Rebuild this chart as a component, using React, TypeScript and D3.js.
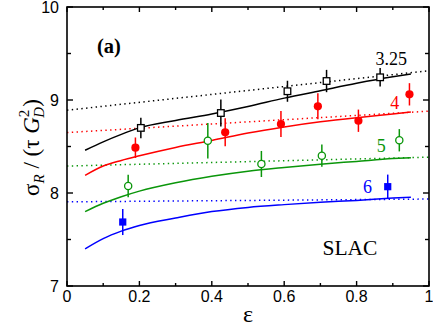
import * as d3 from "d3";
import React from "react";

const width = 433;
const height = 327;
const margin = { top: 7, right: 4, bottom: 41, left: 67 };

// model curves (solid) at these epsilon values
const curveEps = [0.05, 0.1, 0.15, 0.2, 0.3, 0.4, 0.5, 0.6, 0.7, 0.8, 0.9, 0.95];
const curve325 = [8.46, 8.55, 8.63, 8.7, 8.78, 8.85, 8.93, 9.02, 9.1, 9.18, 9.25, 9.28];
const curve4 = [8.19, 8.29, 8.35, 8.4, 8.49, 8.565, 8.645, 8.71, 8.765, 8.81, 8.85, 8.87];
const curve5 = [7.8, 7.89, 7.96, 8.02, 8.11, 8.18, 8.235, 8.275, 8.31, 8.34, 8.37, 8.38];
const curve6 = [7.4, 7.51, 7.59, 7.65, 7.73, 7.8, 7.845, 7.875, 7.9, 7.92, 7.945, 7.955];

// dotted lines, values at eps = 0 and eps = 1
const dotEps = [0, 1];
const dot325 = [8.89, 9.315];
const dot4 = [8.65, 8.88];
const dot5 = [8.29, 8.385];
const dot6 = [7.905, 7.935];

// SLAC points
const eps325 = [0.204, 0.425, 0.609, 0.717, 0.865];
const val325 = [8.7, 8.86, 9.094, 9.204, 9.244];
const err325 = [0.11, 0.145, 0.113, 0.12, 0.1];

const eps4 = [0.189, 0.437, 0.591, 0.693, 0.805, 0.946];
const val4 = [8.487, 8.653, 8.742, 8.932, 8.777, 9.061];
const err4 = [0.11, 0.15, 0.14, 0.14, 0.12, 0.12];

const eps5 = [0.169, 0.389, 0.537, 0.704, 0.918];
const val5 = [8.075, 8.562, 8.312, 8.401, 8.567];
const err5 = [0.12, 0.19, 0.14, 0.12, 0.12];

const eps6 = [0.154, 0.886];
const val6 = [7.688, 8.068];
const err6 = [0.14, 0.13];

const xTicks = [0, 0.2, 0.4, 0.6, 0.8, 1];
const xMinor = [0.1, 0.3, 0.5, 0.7, 0.9];
const yTicks = [7, 8, 9, 10];
const yMinor = [7.5, 8.5, 9.5];

const series = [
  { label: "3.25", color: "#000", marker: "openSquare", eps: eps325, val: val325, err: err325, curve: curve325, dot: dot325, lx: 0.852, ly: 9.375 },
  { label: "4", color: "#ff0000", marker: "dot", eps: eps4, val: val4, err: err4, curve: curve4, dot: dot4, ly: 8.9, lx: 0.893 },
  { label: "5", color: "#0a960a", marker: "openCircle", eps: eps5, val: val5, err: err5, curve: curve5, dot: dot5, lx: 0.856, ly: 8.44 },
  { label: "6", color: "#0000ff", marker: "square", eps: eps6, val: val6, err: err6, curve: curve6, dot: dot6, lx: 0.818, ly: 8.0 },
];

const serif = "'Liberation Serif', 'Times New Roman', serif";
const sans = "'Liberation Sans', Arial, Helvetica, sans-serif";

export default function App() {
  const x = d3.scaleLinear().domain([0, 1]).range([margin.left, width - margin.right]);
  const y = d3.scaleLinear().domain([7, 10]).range([height - margin.bottom, margin.top]);
  const line = d3
    .line<[number, number]>()
    .x((d) => x(d[0]))
    .y((d) => y(d[1]))
    .curve(d3.curveMonotoneX);
  const straight = d3
    .line<[number, number]>()
    .x((d) => x(d[0]))
    .y((d) => y(d[1]));

  const x0 = margin.left;
  const x1 = width - margin.right;
  const y0 = height - margin.bottom;
  const y1 = margin.top;

  const marker = (kind: string, cx: number, cy: number, color: string, key: string) => {
    if (kind === "openSquare")
      return <rect key={key} x={cx - 3.3} y={cy - 3.3} width={6.6} height={6.6} fill="#fff" stroke={color} strokeWidth={1.3} />;
    if (kind === "square")
      return <rect key={key} x={cx - 3.6} y={cy - 3.6} width={7.2} height={7.2} fill={color} />;
    if (kind === "openCircle")
      return <circle key={key} cx={cx} cy={cy} r={3.6} fill="#fff" stroke={color} strokeWidth={1.3} />;
    return <circle key={key} cx={cx} cy={cy} r={4.1} fill={color} />;
  };

  return (
    <svg width={width} height={height} style={{ display: "block", position: "absolute", left: 0, top: 0 }}>
      <rect width={width} height={height} fill="#fff" />

      {/* dotted reference lines */}
      {series.map((s) => (
        <path
          key={"dot" + s.label}
          d={straight(dotEps.map((e, i) => [e, s.dot[i]]) as [number, number][]) || ""}
          fill="none"
          stroke={s.color}
          strokeWidth={1.5}
          strokeDasharray="1.4 3.4"
        />
      ))}

      {/* solid model curves */}
      {series.map((s) => (
        <path
          key={"curve" + s.label}
          d={line(curveEps.map((e, i) => [e, s.curve[i]]) as [number, number][]) || ""}
          fill="none"
          stroke={s.color}
          strokeWidth={1.5}
        />
      ))}

      {/* error bars and markers */}
      {series.map((s) => (
        <g key={"pts" + s.label}>
          {s.eps.map((e, i) => (
            <line
              key={"e" + i}
              x1={x(e)}
              x2={x(e)}
              y1={y(s.val[i] - s.err[i])}
              y2={y(s.val[i] + s.err[i])}
              stroke={s.color}
              strokeWidth={1.5}
            />
          ))}
          {s.eps.map((e, i) => marker(s.marker, x(e), y(s.val[i]), s.color, "m" + i))}
        </g>
      ))}

      {/* series labels */}
      {series.map((s) => (
        <text key={"lab" + s.label} x={x(s.lx)} y={y(s.ly)} fill={s.color} fontFamily={serif} fontSize={18}>
          {s.label}
        </text>
      ))}

      <text x={97} y={53} fontFamily={serif} fontSize={20.5} fontWeight="bold">(a)</text>
      <text x={322.5} y={255} fontFamily={serif} fontSize={21.5}>SLAC</text>

      {/* frame */}
      <rect x={x0} y={y1} width={x1 - x0} height={y0 - y1} fill="none" stroke="#000" strokeWidth={1.6} />

      {/* ticks */}
      {xTicks.map((t) => (
        <g key={"xt" + t}>
          <line x1={x(t)} x2={x(t)} y1={y0} y2={y0 - 5} stroke="#000" strokeWidth={1.4} />
          <line x1={x(t)} x2={x(t)} y1={y1} y2={y1 + 5} stroke="#000" strokeWidth={1.4} />
          <text x={x(t)} y={302} textAnchor="middle" fontFamily={sans} fontSize={16}>
            {d3.format("")(t)}
          </text>
        </g>
      ))}
      {xMinor.map((t) => (
        <g key={"xm" + t}>
          <line x1={x(t)} x2={x(t)} y1={y0} y2={y0 - 3} stroke="#000" strokeWidth={1.4} />
          <line x1={x(t)} x2={x(t)} y1={y1} y2={y1 + 3} stroke="#000" strokeWidth={1.4} />
        </g>
      ))}
      {yTicks.map((t) => (
        <g key={"yt" + t}>
          <line x1={x0} x2={x0 + 6} y1={y(t)} y2={y(t)} stroke="#000" strokeWidth={1.4} />
          <line x1={x1} x2={x1 - 6} y1={y(t)} y2={y(t)} stroke="#000" strokeWidth={1.4} />
          <text x={59} y={y(t) + 6} textAnchor="end" fontFamily={sans} fontSize={16}>
            {t}
          </text>
        </g>
      ))}
      {yMinor.map((t) => (
        <g key={"ym" + t}>
          <line x1={x0} x2={x0 + 4} y1={y(t)} y2={y(t)} stroke="#000" strokeWidth={1.4} />
          <line x1={x1} x2={x1 - 4} y1={y(t)} y2={y(t)} stroke="#000" strokeWidth={1.4} />
        </g>
      ))}

      {/* axis titles */}
      <text x={248} y={322} textAnchor="middle" fontFamily={serif} fontSize={24}>ε</text>
      <text
        transform="translate(39,147.5) rotate(-90)"
        textAnchor="middle"
        fontFamily={serif}
        fontSize={23}
      >
        σ<tspan fontSize={15} dy={5} fontStyle="italic">R</tspan>
        <tspan dy={-5}> / (τ </tspan>
        <tspan fontStyle="italic">G</tspan>
        <tspan fontSize={15} dy={-10}>2</tspan>
        <tspan fontSize={15} dy={15} dx={-8} fontStyle="italic">D</tspan>
        <tspan dy={-5}>)</tspan>
      </text>
    </svg>
  );
}
